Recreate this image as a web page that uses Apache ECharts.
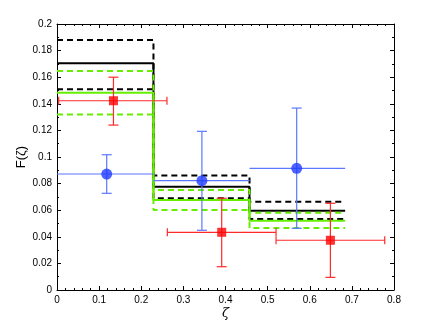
<!DOCTYPE html>
<html>
<head>
<meta charset="utf-8">
<script src="https://cdn.jsdelivr.net/npm/echarts@6/dist/echarts.min.js"></script>
<style>
  html, body { margin: 0; padding: 0; background: #fff; }
  #chart { width: 436px; height: 328px; }
</style>
</head>
<body>
<div id="chart"></div>
<script>
// histogram bins
const binEdges = [0, 0.229, 0.457, 0.684];
const blackMid = [0.1704, 0.0777, 0.0596];
const blackHi = [0.188, 0.086, 0.0664];
const blackLo = [0.151, 0.0689, 0.0534];
const greenMid = [0.1483, 0.0677, 0.0521];
const greenHi = [0.1647, 0.0752, 0.0581];
const greenLo = [0.132, 0.0602, 0.0466];

// blue points: x, y, xlo, xhi, ylo, yhi
const blueX = [0.118, 0.344, 0.569];
const blueY = [0.0872, 0.0822, 0.0915];
const blueXLo = [0.0, 0.229, 0.457];
const blueXHi = [0.229, 0.457, 0.684];
const blueYLo = [0.0727, 0.0449, 0.0464];
const blueYHi = [0.1017, 0.1193, 0.1368];

// red points
const redX = [0.134, 0.391, 0.649];
const redY = [0.1423, 0.0434, 0.0374];
const redXLo = [0.004, 0.262, 0.52];
const redXHi = [0.261, 0.52, 0.778];
const redYLo = [0.124, 0.0175, 0.0095];
const redYHi = [0.160, 0.069, 0.0652];

const stepLine = (vals) => {
  const pts = [];
  vals.forEach((v, i) => {
    pts.push([binEdges[i], v]);
    pts.push([binEdges[i + 1], v]);
  });
  return pts;
};

const histSeries = (vals, color, dashed, width) => ({
  type: "line",
  data: stepLine(vals),
  symbol: "none",
  silent: true,
  lineStyle: { color: color, width: width, type: dashed ? [6, 4] : "solid" },
  z: 2,
});

const errData = (xs, ys, xlo, xhi, ylo, yhi) =>
  xs.map((x, i) => [x, ys[i], xlo[i], xhi[i], ylo[i], yhi[i]]);

const errSeries = (data, color, xCaps) => ({
  type: "custom",
  data: data,
  silent: true,
  z: 3,
  renderItem: (params, api) => {
    const p = api.coord([api.value(0), api.value(1)]);
    const l = api.coord([api.value(2), api.value(1)]);
    const r = api.coord([api.value(3), api.value(1)]);
    const lo = api.coord([api.value(0), api.value(4)]);
    const hi = api.coord([api.value(0), api.value(5)]);
    const st = { stroke: color, lineWidth: 1.2 };
    const c = 5;
    const kids = [
      { type: "line", shape: { x1: l[0], y1: p[1], x2: r[0], y2: p[1] }, style: st },
      { type: "line", shape: { x1: p[0], y1: lo[1], x2: p[0], y2: hi[1] }, style: st },
      { type: "line", shape: { x1: p[0] - c, y1: lo[1], x2: p[0] + c, y2: lo[1] }, style: st },
      { type: "line", shape: { x1: p[0] - c, y1: hi[1], x2: p[0] + c, y2: hi[1] }, style: st },
    ];
    if (xCaps) {
      kids.push({ type: "line", shape: { x1: l[0], y1: p[1] - 4, x2: l[0], y2: p[1] + 4 }, style: st });
      kids.push({ type: "line", shape: { x1: r[0], y1: p[1] - 4, x2: r[0], y2: p[1] + 4 }, style: st });
    }
    return { type: "group", children: kids };
  },
});

const axisFont = { fontFamily: "Liberation Sans", fontSize: 10, color: "#000" };

const xBase = {
  type: "value", min: 0, max: 0.8, interval: 0.1,
  axisLine: { onZero: false, lineStyle: { color: "#000", width: 1 } },
  axisTick: { inside: true, length: 4, lineStyle: { color: "#000" } },
  minorTick: { show: true, splitNumber: 5, length: 2, lineStyle: { color: "#000" } },
  splitLine: { show: false },
};
const yBase = {
  type: "value", min: 0, max: 0.2, interval: 0.02,
  axisLine: { show: true, onZero: false, lineStyle: { color: "#000", width: 1 } },
  axisTick: { inside: true, length: 4, lineStyle: { color: "#000" } },
  minorTick: { show: true, splitNumber: 2, length: 2, lineStyle: { color: "#000" } },
  splitLine: { show: false },
};

const chart = echarts.init(document.getElementById("chart"));
chart.setOption({
  animation: false,
  backgroundColor: "#fff",
  grid: { left: 57, right: 42, top: 24, bottom: 38 },
  xAxis: [
    Object.assign({}, xBase, {
      position: "bottom",
      axisLabel: Object.assign({ margin: 5, formatter: (v) => String(Math.round(v * 10) / 10) }, axisFont),
      name: "ζ",
      nameLocation: "middle",
      nameGap: 17,
      nameMoveOverlap: false,
      nameTextStyle: { fontFamily: "DejaVu Serif", fontStyle: "italic", fontSize: 13, color: "#000" },
    }),
    Object.assign({}, xBase, { position: "top", axisLabel: { show: false } }),
  ],
  yAxis: [
    Object.assign({}, yBase, {
      position: "left",
      axisLabel: Object.assign({ margin: 5, formatter: (v) => String(Math.round(v * 100) / 100) }, axisFont),
      name: "F(ζ)",
      nameLocation: "middle",
      nameGap: 29,
      nameMoveOverlap: false,
      nameTextStyle: { fontFamily: "Liberation Sans", fontSize: 13, color: "#000" },
    }),
    Object.assign({}, yBase, { position: "right", axisLabel: { show: false } }),
  ],
  series: [
    histSeries(blackHi, "#000", true, 2),
    histSeries(blackLo, "#000", true, 2),
    histSeries(blackMid, "#000", false, 2),
    histSeries(greenHi, "#66ee00", true, 2),
    histSeries(greenLo, "#66ee00", true, 2),
    histSeries(greenMid, "#66ee00", false, 2),
    errSeries(errData(blueX, blueY, blueXLo, blueXHi, blueYLo, blueYHi), "#5b78ff", false),
    errSeries(errData(redX, redY, redXLo, redXHi, redYLo, redYHi), "#ff2a2a", true),
    {
      type: "scatter",
      data: blueX.map((x, i) => [x, blueY[i]]),
      symbol: "circle",
      symbolSize: 11,
      itemStyle: { color: "#1f3cff" },
      z: 4,
    },
    {
      type: "scatter",
      data: redX.map((x, i) => [x, redY[i]]),
      symbol: "rect",
      symbolSize: 9,
      itemStyle: { color: "#ff0000" },
      z: 4,
    },
  ],
});
</script>
</body>
</html>
